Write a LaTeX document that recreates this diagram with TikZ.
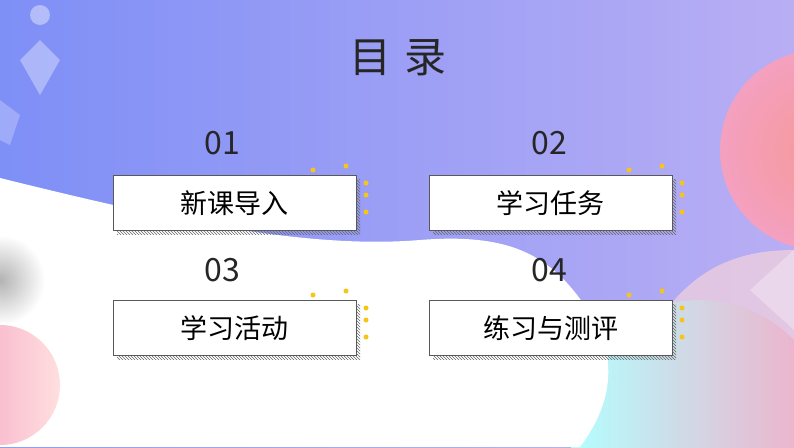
\documentclass[tikz,border=0pt]{standalone}
\usepackage{fontspec}
\setmainfont{Noto Sans CJK SC}
\usetikzlibrary{patterns,shadings}
\definecolor{bgA}{HTML}{7E8FF6}
\definecolor{bgB}{HTML}{B9AEF4}
\definecolor{pinkc}{HTML}{F4A0C0}
\definecolor{dotc}{HTML}{F5C518}
\tikzset{
 mbox/.style={draw=gray!70!black,line width=0.8pt,fill=white,minimum width=243pt,minimum height=55pt,inner sep=0pt,font=\fontsize{27}{27}\selectfont},
 num/.style={font=\fontsize{32}{32}\selectfont,text=black!85},
 dotm/.style={fill=dotc,circle,inner sep=0pt,minimum size=5pt}
}
\newcommand{\tocbox}[4]{%
 \fill[pattern=north west lines,pattern color=gray!80!black] (#1+4,#2+4) rectangle (#1+247,#2+59);
 \node[mbox,anchor=north west] (#3) at (#1,#2) {#4};
 \node[dotm] (#3d1) at (#1+200,#2-5) {};
 \node[dotm] (#3d2) at (#1+233,#2-9) {};
 \node[dotm] (#3d3) at (#1+253,#2+8) {};
 \node[dotm] (#3d4) at (#1+253,#2+20) {};
 \node[dotm] (#3d5) at (#1+253,#2+37) {};
}
\begin{document}
\begin{tikzpicture}[x=1pt,y=-1pt]
\useasboundingbox (0,0) rectangle (794,447);
\begin{scope}
\clip (0,0) rectangle (794,447);
\shade[left color=bgA,right color=bgB] (0,0) rectangle (794,447);
\fill[pink!60!white,opacity=0.6] (794,447) -- (794,250) .. controls (700,250) and (650,300) .. (600,447) -- cycle;
\shade[inner color=pinkc!80!orange,outer color=pinkc] (820,150) circle (100);
\shade[left color=cyan!30!white,right color=pinkc!90!white] (700,430) circle (130);
\fill[white] (0,178) .. controls (150,215) and (300,250) .. (420,240)
  .. controls (520,232) and (560,260) .. (600,330)
  .. controls (620,380) and (600,420) .. (580,447) -- (0,447) -- cycle;
\shade[inner color=gray!60,outer color=white] (0,280) circle (45);
\shade[left color=pinkc,right color=pink!50!white] (0,385) circle (60);
\fill[white,opacity=0.35] (20,60) -- (40,40) -- (60,60) -- (40,95) -- cycle;
\fill[white,opacity=0.25] (0,100) -- (20,115) -- (10,145) -- (0,140) -- cycle;
\fill[white,opacity=0.4] (40,15) circle (10);
\fill[white,opacity=0.3] (750,290) -- (794,250) -- (794,330) -- cycle;
\end{scope}
\node[font=\fontsize{42}{42}\selectfont,text=black!85] (title) at (398,58) {目\hspace{14pt}录};
\node[num] (n1) at (222,143) {01};
\node[num] (n2) at (549,143) {02};
\node[num] (n3) at (222,270) {03};
\node[num] (n4) at (549,270) {04};
\tocbox{113}{175}{b1}{新课导入}
\tocbox{429}{175}{b2}{学习任务}
\tocbox{113}{300}{b3}{学习活动}
\tocbox{429}{300}{b4}{练习与测评}
\end{tikzpicture}
\end{document}
